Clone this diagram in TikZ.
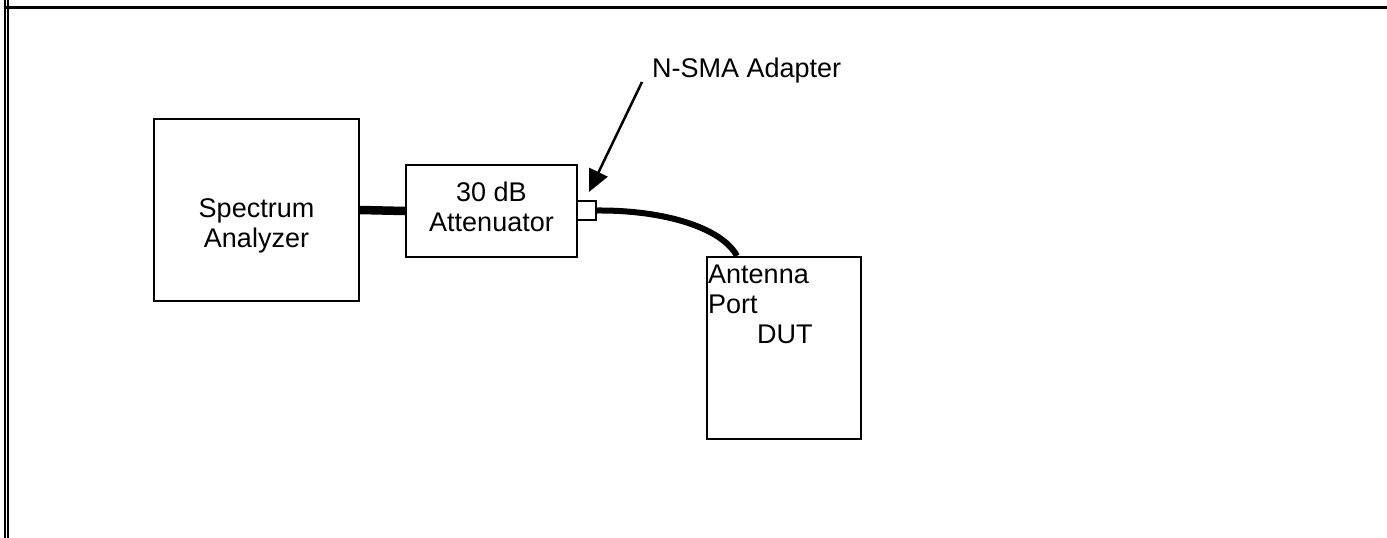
\documentclass[tikz,border=0pt]{standalone}
\usepackage{fontspec}
\setmainfont{Liberation Sans}
\usetikzlibrary{arrows.meta}
\begin{document}
\begin{tikzpicture}[x=1pt,y=-1pt,
 box/.style={draw,line width=2.2pt,inner sep=0pt},
 lbl/.style={inner sep=0pt,font=\fontsize{27}{30}\selectfont}]
\useasboundingbox (0,0) rectangle (1387,538);
\fill[white] (0,0) rectangle (1387,538);
% frame
\draw[line width=1.8pt] (4.6,0) -- (4.6,538);
\draw[line width=1.8pt] (7.7,0) -- (7.7,538);
\draw[line width=3.5pt] (4,7.3) -- (1387,7.3);
% spectrum analyzer
\node[box,minimum width=205pt,minimum height=182pt] (sa) at (256.5,210) {};
\node[lbl,anchor=base] (sa1) at (256.5,217) {Spectrum};
\node[lbl,anchor=base] (sa2) at (256.5,247) {Analyzer};
% attenuator
\node[box,minimum width=171pt,minimum height=92pt] (att) at (491.5,211) {};
\node[lbl,anchor=base] (at1) at (491.5,201) {30 dB};
\node[lbl,anchor=base] (at2) at (491.5,231) {Attenuator};
% adapter
\node[box,minimum width=19pt,minimum height=19pt] (ad) at (586.5,210.5) {};
% DUT
\node[box,minimum width=154pt,minimum height=182pt] (dut) at (784,348) {};
\node[lbl,anchor=base west] (dut1) at (708,283) {Antenna};
\node[lbl,anchor=base west] (dut2) at (708,313) {Port};
\node[lbl,anchor=base west] (dut3) at (757,343) {DUT};
% label
\node[lbl,anchor=base west] (nsma) at (652,77) {N-SMA Adapter};
\coordinate (tip) at (589,192);
\coordinate (plug) at ([xshift=31pt]dut.north west);
% connectors
\draw[line width=8.5pt] (sa.east) -- (att.west);
\draw[line width=6pt] (ad.east) .. controls (665,210) and (722,228) .. (plug);
\draw[line width=2.5pt,-{Triangle[length=22pt,width=20pt]}] ([shift={(-10,5)}]nsma.base west) -- (tip);
\end{tikzpicture}
\end{document}
